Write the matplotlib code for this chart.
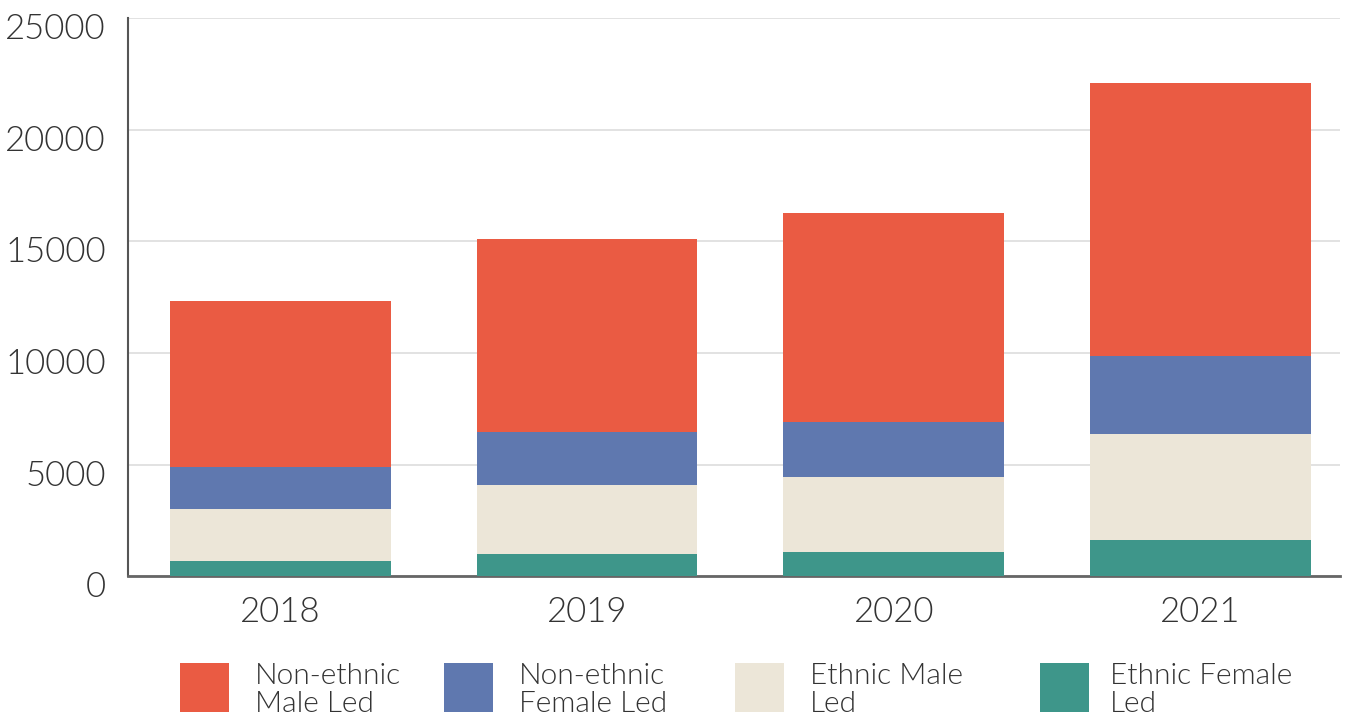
import matplotlib
matplotlib.use("Agg")
import matplotlib.pyplot as plt
import matplotlib.transforms as mtransforms
from matplotlib.patches import Rectangle

# data (stacked segments, bottom to top)
years = ["2018", "2019", "2020", "2021"]
ethnic_female = [670, 1015, 1104, 1616]
ethnic_male = [2326, 3089, 3359, 4774]
nonethnic_female = [1877, 2374, 2462, 3489]
nonethnic_male = [7467, 8641, 9359, 12206]

labels = ["Non-ethnic\nMale Led", "Non-ethnic\nFemale Led", "Ethnic Male\nLed", "Ethnic Female\nLed"]
colors = ["#EA5B43", "#5F78AF", "#ECE6D8", "#3E968A"]
text_color = "#333333"

plt.rcParams['font.family'] = ['Lato', 'DejaVu Sans']

W, H = 1350, 720
fig = plt.figure(figsize=(W / 100, H / 100), dpi=100)
ax = fig.add_axes([0.0948, 0.1996, 0.8978, 0.7754])

x = list(range(len(years)))
width = 0.72
series = [ethnic_female, ethnic_male, nonethnic_female, nonethnic_male]
series_colors = [colors[3], colors[2], colors[1], colors[0]]
bottom = [0] * len(years)
for vals, col in zip(series, series_colors):
    ax.bar(x, vals, width, bottom=bottom, color=col, zorder=3)
    bottom = [b + v for b, v in zip(bottom, vals)]

ax.set_ylim(0, 25000)
ax.set_xlim(-0.497, 3.455)
ax.set_yticks([0, 5000, 10000, 15000, 20000, 25000])
ax.set_xticks(x)
ax.set_xticklabels(years)

ax.grid(axis='y', color='#e2e2e2', linewidth=1.4, zorder=0)
ax.set_axisbelow(True)
for s in ['top', 'right']:
    ax.spines[s].set_visible(False)
ax.spines['left'].set_color('#555555')
ax.spines['left'].set_linewidth(1.5)
ax.spines['bottom'].set_color('#666666')
ax.spines['bottom'].set_linewidth(2)

ax.tick_params(axis='y', length=0, pad=16, labelsize=25, labelcolor=text_color)
ax.tick_params(axis='x', length=0, pad=14, labelsize=25, labelcolor=text_color)
# nudge y labels down a little, like the reference
shift = mtransforms.ScaledTranslation(0, -8 / 100, fig.dpi_scale_trans)
for t in ax.get_yticklabels():
    t.set_transform(t.get_transform() + shift)
for t in ax.get_xticklabels() + ax.get_yticklabels():
    t.set_fontweight(300)

# legend laid out by hand (pixel positions from the reference)
square_x = [180, 444, 735, 1040]
text_x = [255, 519, 810, 1110]
sq = 49
sq_top = 663
for col, lab, sx, tx in zip(colors, labels, square_x, text_x):
    fig.add_artist(Rectangle((sx / W, 1 - (sq_top + sq) / H), sq / W, sq / H,
                             transform=fig.transFigure, facecolor=col, edgecolor='none'))
    fig.text(tx / W, 1 - 690 / H, lab, ha='left', va='center', fontsize=21.5,
             fontweight=300, color=text_color, linespacing=1.1)

fig.savefig("out.png", dpi=100)
